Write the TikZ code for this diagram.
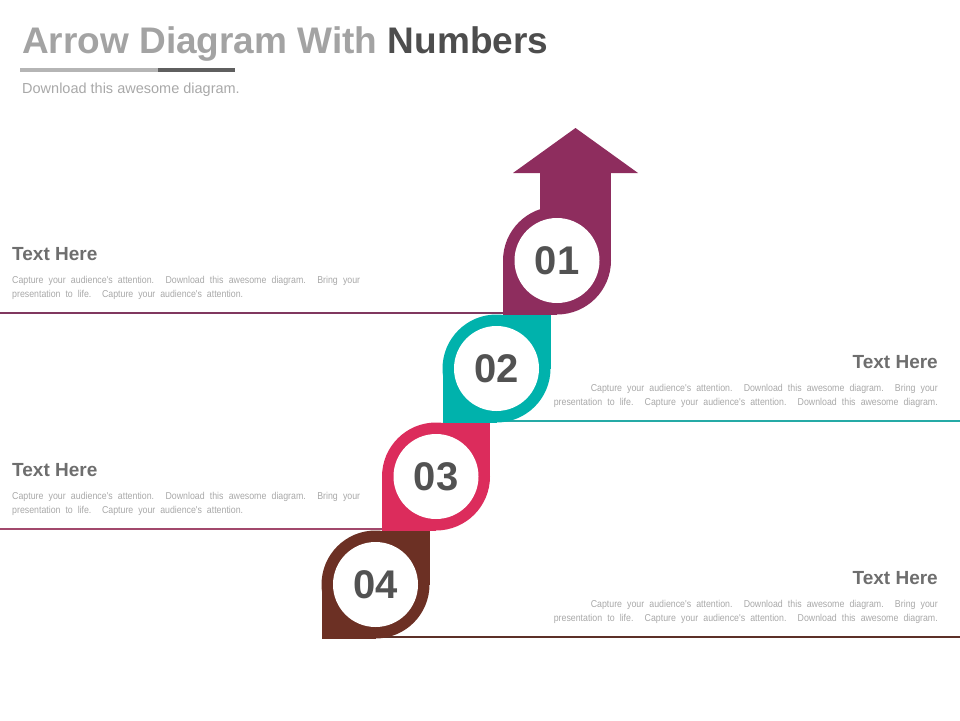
\documentclass[tikz,border=0pt]{standalone}
\usepackage{fontspec}
\setmainfont{Liberation Sans}
\newfontfamily\bodyfont[FakeStretch=0.88]{Liberation Sans}
\usepackage{tikz}

\definecolor{plum}{HTML}{8E2D5E}
\definecolor{tealstep}{HTML}{00B2AC}
\definecolor{rosestep}{HTML}{DC2C5C}
\definecolor{brownstep}{HTML}{6C3024}
\definecolor{plumrule}{HTML}{80385F}
\definecolor{tealrule}{HTML}{25AAA6}
\definecolor{roserule}{HTML}{A2486C}
\definecolor{brownrule}{HTML}{5C3028}
\definecolor{headgray}{HTML}{6E6E6E}
\definecolor{bodygray}{HTML}{A8A8A8}
\definecolor{numgray}{HTML}{525252}
\definecolor{titlelight}{HTML}{A3A3A3}
\definecolor{titledark}{HTML}{4D4D4D}

% drop shape: circle with a square top right and bottom left corner
\newcommand{\dropshape}[2]{%
  \fill[#2] (#1) circle (54);
  \fill[#2] (#1) rectangle ++(54,-54);
  \fill[#2] (#1) rectangle ++(-54,54);
}

\begin{document}
\begin{tikzpicture}[x=1pt,y=-1pt,
    numcircle/.style={shape=circle,fill=white,minimum size=85pt,inner sep=0pt,text=numgray,font=\bfseries\fontsize{40}{40}\selectfont},
    headtext/.style={inner sep=0pt,text=headgray,font=\bfseries\fontsize{19}{19}\selectfont},
    bodytext/.style={inner sep=0pt,text=bodygray,font=\bodyfont\fontsize{10}{12}\selectfont},
    steprule/.style={line width=2.2pt}]
        \useasboundingbox (0,0) rectangle (960,720);

        % title
        \node[anchor=base west,inner sep=0pt,font=\bfseries\fontsize{37}{37}\selectfont] (title) at (22,53) {\textcolor{titlelight}{Arrow Diagram With} \textcolor{titledark}{Numbers}};
        \coordinate (bar1) at (20,70);
        \coordinate (bar2) at (158,70);
        \coordinate (bar3) at (235,70);
        \draw[line width=4pt,titlelight!80] (bar1) -- (bar2);
        \draw[line width=4pt,titledark!90] (bar2) -- (bar3);
        \node[anchor=base west,inner sep=0pt,text=bodygray,font=\fontsize{14.5}{14.5}\selectfont] (sub) at (22,93) {Download this awesome diagram.};

        % step centres
        \coordinate (c1) at (557,260.5);
        \coordinate (c2) at (496.5,368.5);
        \coordinate (c3) at (436,476.5);
        \coordinate (c4) at (375.5,584.5);

        % rules
        \coordinate (w1) at (0,313);
        \coordinate (e2) at (960,421);
        \coordinate (w3) at (0,529);
        \coordinate (e4) at (960,637);
        \draw[steprule,plumrule] (w1) -- (w1 -| c1);
        \draw[steprule,tealrule] (c2 |- e2) -- (e2);
        \draw[steprule,roserule] (w3) -- (w3 -| c3);
        \draw[steprule,brownrule] (c4 |- e4) -- (e4);

        % arrow
        \coordinate (tip) at (575.5,128);
        \fill[plum] (540,173) rectangle (c1 -| 611,0);
        \fill[plum] (513,173) -- (tip) -- (638,173) -- cycle;

        % steps
        \dropshape{c1}{plum}
        \dropshape{c2}{tealstep}
        \dropshape{c3}{rosestep}
        \dropshape{c4}{brownstep}

        \node[numcircle] (n1) at (c1) {01};
        \node[numcircle] (n2) at (c2) {02};
        \node[numcircle] (n3) at (c3) {03};
        \node[numcircle] (n4) at (c4) {04};

        % text blocks
        \node[headtext,anchor=base west] (h1) at (12,260.5) {Text Here};
        \node[bodytext,anchor=base west] (b1a) at (12,283) {\makebox[348pt][s]{Capture your audience's attention. Download this awesome diagram. Bring your}};
        \node[bodytext,anchor=base west] (b1b) at (12,297) {\makebox[231pt][s]{presentation to life. Capture your audience's attention.}};

        \node[headtext,anchor=base east] (h2) at (938,368.5) {Text Here};
        \node[bodytext,anchor=base east] (b2a) at (938,391) {\makebox[347pt][s]{Capture your audience's attention. Download this awesome diagram. Bring your}};
        \node[bodytext,anchor=base east] (b2b) at (938,405) {\makebox[384pt][s]{presentation to life. Capture your audience's attention. Download this awesome diagram.}};

        \node[headtext,anchor=base west] (h3) at (12,476.5) {Text Here};
        \node[bodytext,anchor=base west] (b3a) at (12,499) {\makebox[348pt][s]{Capture your audience's attention. Download this awesome diagram. Bring your}};
        \node[bodytext,anchor=base west] (b3b) at (12,513) {\makebox[231pt][s]{presentation to life. Capture your audience's attention.}};

        \node[headtext,anchor=base east] (h4) at (938,584.5) {Text Here};
        \node[bodytext,anchor=base east] (b4a) at (938,607) {\makebox[347pt][s]{Capture your audience's attention. Download this awesome diagram. Bring your}};
        \node[bodytext,anchor=base east] (b4b) at (938,621) {\makebox[384pt][s]{presentation to life. Capture your audience's attention. Download this awesome diagram.}};
\end{tikzpicture}
\end{document}
